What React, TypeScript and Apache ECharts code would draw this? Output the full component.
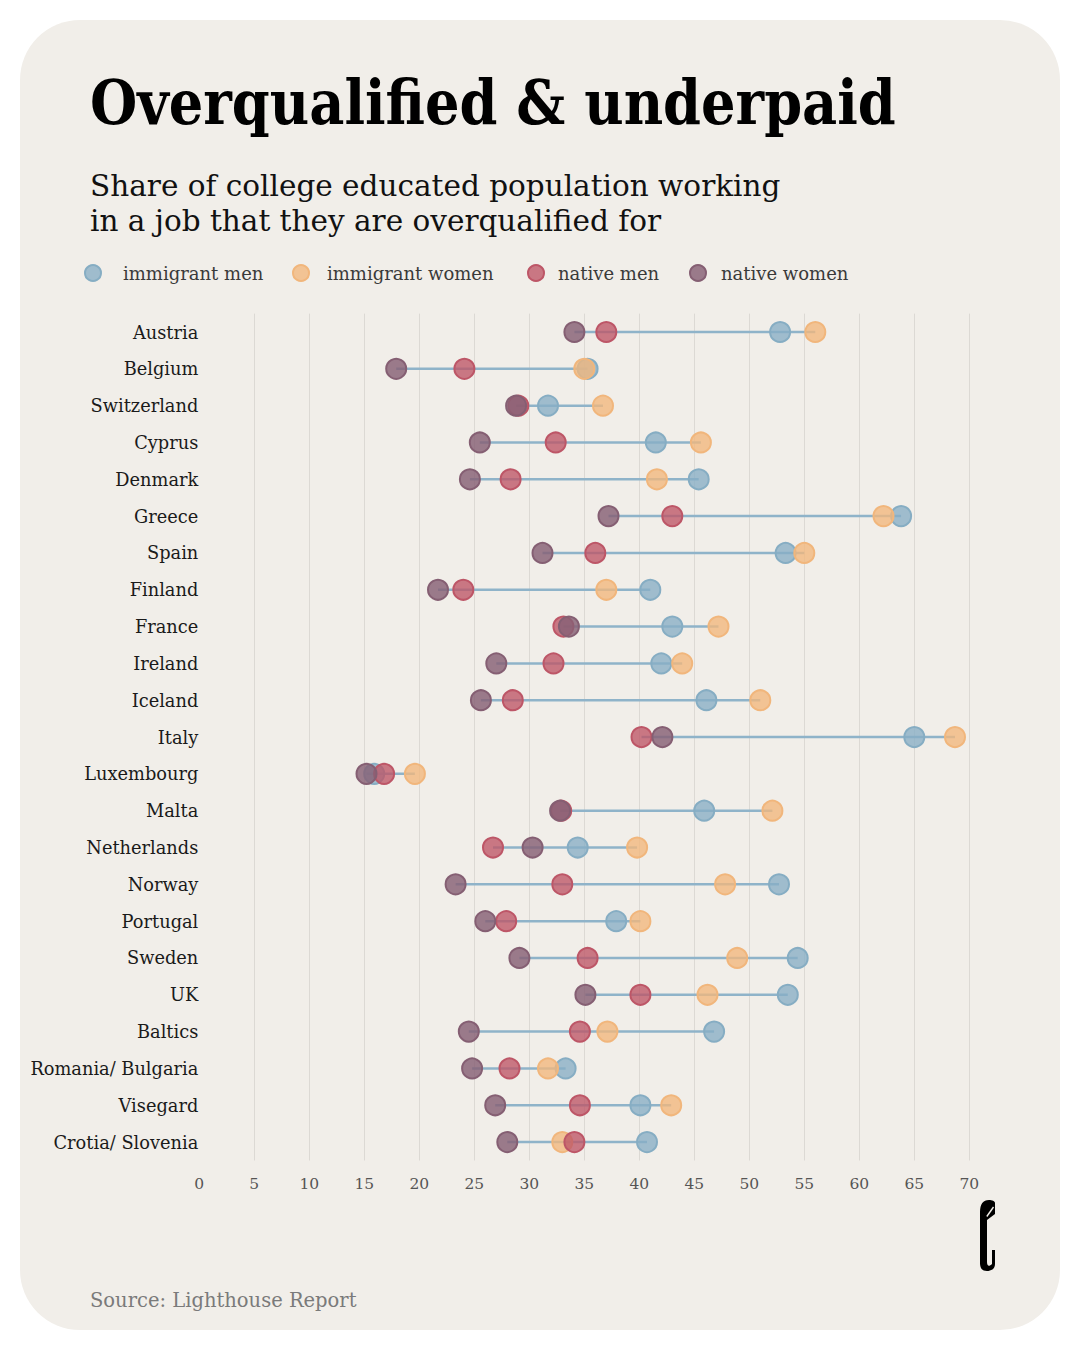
import React, { useEffect, useRef } from "react";
import * as echarts from "echarts";

const countries = [
  "Austria", "Belgium", "Switzerland", "Cyprus", "Denmark", "Greece", "Spain",
  "Finland", "France", "Ireland", "Iceland", "Italy", "Luxembourg", "Malta",
  "Netherlands", "Norway", "Portugal", "Sweden", "UK", "Baltics",
  "Romania/ Bulgaria", "Visegard", "Crotia/ Slovenia",
];

const immigrantMen = [52.8, 35.3, 31.7, 41.5, 45.4, 63.8, 53.3, 41.0, 43.0, 42.0, 46.1, 65.0, 15.9, 45.9, 34.4, 52.7, 37.9, 54.4, 53.5, 46.8, 33.3, 40.1, 40.7];
const immigrantWomen = [56.0, 35.0, 36.7, 45.6, 41.6, 62.2, 55.0, 37.0, 47.2, 43.9, 51.0, 68.7, 19.6, 52.1, 39.8, 47.8, 40.1, 48.9, 46.2, 37.1, 31.7, 42.9, 33.0];
const nativeMen = [37.0, 24.1, 29.0, 32.4, 28.3, 43.0, 36.0, 24.0, 33.1, 32.2, 28.5, 40.2, 16.8, 32.9, 26.7, 33.0, 27.9, 35.3, 40.1, 34.6, 28.2, 34.6, 34.1];
const nativeWomen = [34.1, 17.9, 28.8, 25.5, 24.6, 37.2, 31.2, 21.7, 33.6, 27.0, 25.6, 42.1, 15.2, 32.8, 30.3, 23.3, 26.0, 29.1, 35.1, 24.5, 24.8, 26.9, 28.0];

const seriesNames = ["immigrant men", "immigrant women", "native men", "native women"];
const xTicks = [0, 5, 10, 15, 20, 25, 30, 35, 40, 45, 50, 55, 60, 65, 70];

const LOGO_D =
  "M0,12 C0,4 3,0 9,0 C12,0 15,1 15,3 L15,14 L7,20 L7,62 C7,66 9,67 12,64 L12,50 L15,50 L15,64 C15,69 11,71 7,71 C2,71 0,68 0,63 Z";

const SERIF = "'DejaVu Serif', 'Liberation Serif', serif";

export default function App() {
  const ref = useRef<HTMLDivElement>(null);

  useEffect(() => {
    document.body.style.margin = "0";
    try {
      echarts.graphic.registerShape("logo", echarts.graphic.extendPath(LOGO_D, {}));
    } catch (e) {}
    const chart = echarts.init(ref.current!, null, { renderer: "svg" });

    const fills = ["rgba(136,174,197,0.78)", "rgba(242,183,124,0.78)", "rgba(190,86,102,0.78)", "rgba(134,96,117,0.82)"];
    const borders = ["#86adc3", "#f1b67c", "#bd5667", "#855f73"];
    const values = [immigrantMen, immigrantWomen, nativeMen, nativeWomen];

    const ranges = countries.map((_, i) => {
      const vs = values.map((arr) => arr[i]);
      return [Math.min(...vs), Math.max(...vs), i];
    });

    const legendLefts = [84, 292, 527, 689];
    const legendPads = [17, 13, 9, 10];

    const option: any = {
      animation: false,
      backgroundColor: "#ffffff",
      textStyle: { fontFamily: SERIF },
      graphic: [
        {
          type: "rect",
          z: -10,
          silent: true,
          shape: { x: 20, y: 20, width: 1040, height: 1310, r: 60 },
          style: { fill: "#f1eee9" },
        },
        {
          type: "text",
          x: 90,
          y: 71,
          scaleX: 0.875,
          style: {
            text: "Overqualified & underpaid",
            font: `bold 62px ${SERIF}`,
            fill: "#000000",
          },
        },
        {
          type: "text",
          left: 90,
          top: 168,
          style: {
            text: "Share of college educated population working\nin a job that they are overqualified for",
            font: `29.5px ${SERIF}`,
            lineHeight: 35.5,
            fill: "#111111",
          },
        },
        {
          type: "text",
          left: 90,
          top: 1290,
          style: {
            text: "Source: Lighthouse Report",
            font: `19.5px ${SERIF}`,
            fill: "#7a7a7a",
          },
        },
        {
          type: "logo",
          x: 980,
          y: 1200,
          scaleX: 1,
          scaleY: 1,
          style: { fill: "#000000" },
        },
        {
          type: "line",
          shape: { x1: 986.8, y1: 1216.5, x2: 993.5, y2: 1207 },
          style: { stroke: "#f1eee9", lineWidth: 1.4 },
        },
      ],
      legend: seriesNames.map((name, k) => ({
        data: [name],
        left: legendLefts[k],
        top: 264,
        icon: "circle",
        itemWidth: 16,
        itemHeight: 16,
        padding: 0,
        selectedMode: false,
        textStyle: {
          fontFamily: SERIF,
          fontSize: 18,
          color: "#3a3a3a",
          padding: [0, 0, 0, legendPads[k]],
        },
      })),
      grid: { left: 199.3, right: 110.7, top: 313.6, height: 846.9, containLabel: false },
      xAxis: {
        type: "value",
        min: 0,
        max: 70,
        interval: 5,
        axisLine: { show: false },
        axisTick: { show: false },
        axisLabel: {
          fontFamily: SERIF,
          fontSize: 15.5,
          color: "#555555",
          margin: 15,
          formatter: (v: number) => (xTicks.includes(v) ? String(v) : ""),
        },
        splitLine: {
          show: true,
          lineStyle: {
            color: ["transparent"].concat(xTicks.slice(1).map(() => "#dcd9d4")),
            width: 1,
          },
        },
      },
      yAxis: {
        type: "category",
        data: countries,
        inverse: true,
        axisLine: { show: false },
        axisTick: { show: false },
        splitLine: { show: false },
        axisLabel: {
          fontFamily: SERIF,
          fontSize: 17.8,
          color: "#1a1a1a",
          margin: 1,
        },
      },
      series: [
        {
          type: "custom",
          name: "range",
          silent: true,
          z: 1,
          data: ranges,
          encode: { x: [0, 1], y: 2 },
          renderItem: (params: any, api: any) => {
            const a = api.coord([api.value(0), api.value(2)]);
            const b = api.coord([api.value(1), api.value(2)]);
            return {
              type: "line",
              shape: { x1: a[0], y1: a[1], x2: b[0], y2: b[1] },
              style: { stroke: "#8fb3c9", lineWidth: 2.5 },
            };
          },
        },
        ...seriesNames.map((name, k) => ({
          type: "scatter",
          name,
          z: 2 + k,
          symbol: "circle",
          symbolSize: 20,
          data: values[k].map((v, i) => [v, i]),
          itemStyle: {
            color: fills[k],
            borderColor: borders[k],
            borderWidth: 2,
            opacity: 1,
          },
          emphasis: { disabled: true },
        })),
      ],
    };

    chart.setOption(option);
    return () => chart.dispose();
  }, []);

  return (
    <div
      ref={ref}
      style={{ position: "fixed", left: 0, top: 0, width: 1080, height: 1350 }}
    />
  );
}
